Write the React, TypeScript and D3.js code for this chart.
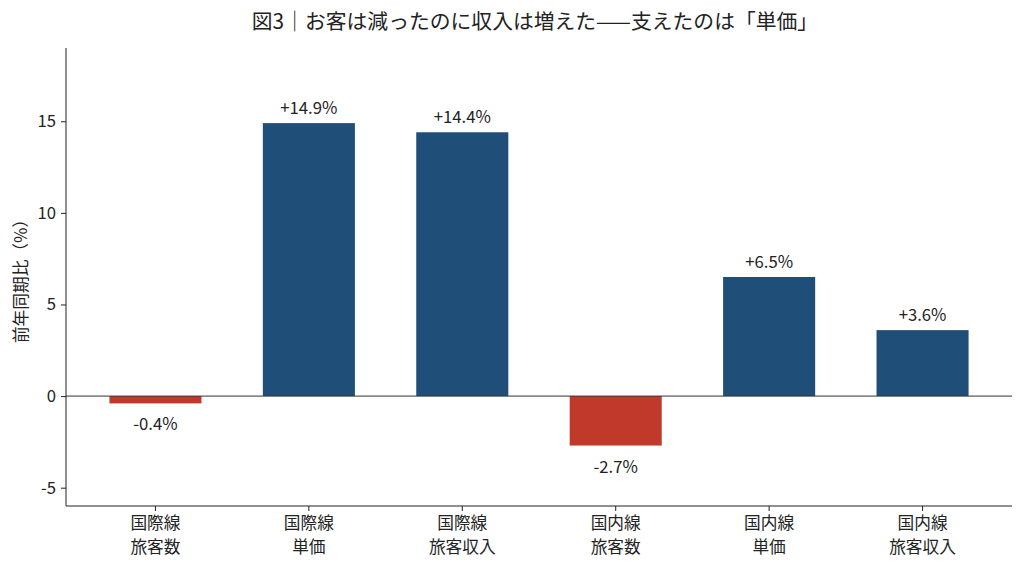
import React, { useEffect, useRef } from 'react';
import * as d3 from 'd3';

// Chart data
const categories = ['国際線\n旅客数', '国際線\n単価', '国際線\n旅客収入', '国内線\n旅客数', '国内線\n単価', '国内線\n旅客収入'];
const changes = [-0.4, 14.9, 14.4, -2.7, 6.5, 3.6];
const yTicks = [-5, 0, 5, 10, 15];

const title = '図3｜お客は減ったのに収入は増えた——支えたのは「単価」';
const yLabel = '前年同期比（%）';

const App: React.FC = () => {
    const ref = useRef<SVGSVGElement>(null);

    useEffect(() => {
        if (!ref.current) return;
        const svg = d3.select(ref.current);
        svg.selectAll('*').remove();

        const width = 1024;
        const height = 567;
        const margin = { top: 48, right: 12, bottom: 61, left: 66 };
        const font = '"Noto Sans CJK JP", "Noto Sans", sans-serif';
        const fs = '16.7px';
        const blue = '#1f4e79';
        const red = '#c0392b';

        const x = d3.scaleBand<number>()
            .domain(d3.range(categories.length))
            .range([margin.left, width - margin.right])
            .paddingInner(0.4)
            .paddingOuter(0.283);

        const y = d3.scaleLinear()
            .domain([-6, 19])
            .range([height - margin.bottom, margin.top]);

        const data = categories.map((c, i) => ({ c, i, v: changes[i] }));

        // Bars
        svg.append('g')
            .selectAll('rect')
            .data(data)
            .enter()
            .append('rect')
            .attr('x', d => x(d.i) as number)
            .attr('width', x.bandwidth())
            .attr('y', d => y(Math.max(0, d.v)))
            .attr('height', d => Math.abs(y(d.v) - y(0)))
            .attr('fill', d => (d.v < 0 ? red : blue));

        // Zero line
        svg.append('line')
            .attr('x1', margin.left)
            .attr('x2', width - margin.right)
            .attr('y1', y(0))
            .attr('y2', y(0))
            .attr('stroke', '#333')
            .attr('stroke-width', 1);

        // Value labels
        svg.append('g')
            .selectAll('text')
            .data(data)
            .enter()
            .append('text')
            .attr('x', d => (x(d.i) as number) + x.bandwidth() / 2)
            .attr('y', d => (d.v >= 0 ? y(d.v) - 9 : y(d.v) + 27))
            .attr('text-anchor', 'middle')
            .attr('font-family', font)
            .attr('font-size', fs)
            .attr('fill', '#222')
            .text(d => `${d.v > 0 ? '+' : ''}${d.v.toFixed(1)}%`);

        // Y axis
        const yAxis = svg.append('g')
            .attr('transform', `translate(${margin.left},0)`)
            .call(d3.axisLeft(y).tickValues(yTicks).tickSize(5).tickPadding(5).tickFormat(d => String(d)));
        yAxis.select('.domain').attr('stroke', '#222').attr('d', `M0,${y(-6)}V${y(19)}`);
        yAxis.selectAll('.tick line').attr('stroke', '#222');
        yAxis.selectAll('.tick text')
            .attr('font-family', font)
            .attr('font-size', fs)
            .attr('fill', '#222');

        // X axis
        const xAxis = svg.append('g')
            .attr('transform', `translate(0,${height - margin.bottom})`)
            .call(d3.axisBottom(x).tickSize(5).tickFormat(() => ''));
        xAxis.select('.domain').attr('stroke', '#222').attr('d', `M${margin.left},0H${width - margin.right}`);
        xAxis.selectAll('.tick line').attr('stroke', '#222');
        xAxis.selectAll('.tick text').remove();

        // Category labels, two lines each
        const catG = svg.append('g')
            .attr('font-family', font)
            .attr('font-size', fs)
            .attr('fill', '#222')
            .attr('text-anchor', 'middle');
        data.forEach(d => {
            d.c.split('\n').forEach((line, k) => {
                catG.append('text')
                    .attr('x', (x(d.i) as number) + x.bandwidth() / 2)
                    .attr('y', y(-6) + 23 + k * 24)
                    .text(line);
            });
        });

        // Y label
        svg.append('text')
            .attr('transform', `translate(27,${(margin.top + height - margin.bottom) / 2}) rotate(-90)`)
            .attr('text-anchor', 'middle')
            .attr('font-family', font)
            .attr('font-size', fs)
            .attr('fill', '#222')
            .text(yLabel);

        // Title
        svg.append('text')
            .attr('x', 535)
            .attr('y', 29)
            .attr('text-anchor', 'middle')
            .attr('font-family', font)
            .attr('font-size', '20.8px')
            .attr('fill', '#222')
            .text(title);
    }, []);

    return (
        <svg
            ref={ref}
            width={1024}
            height={567}
            style={{ position: 'absolute', top: 0, left: 0, background: '#fff' }}
        />
    );
};

export default App;
